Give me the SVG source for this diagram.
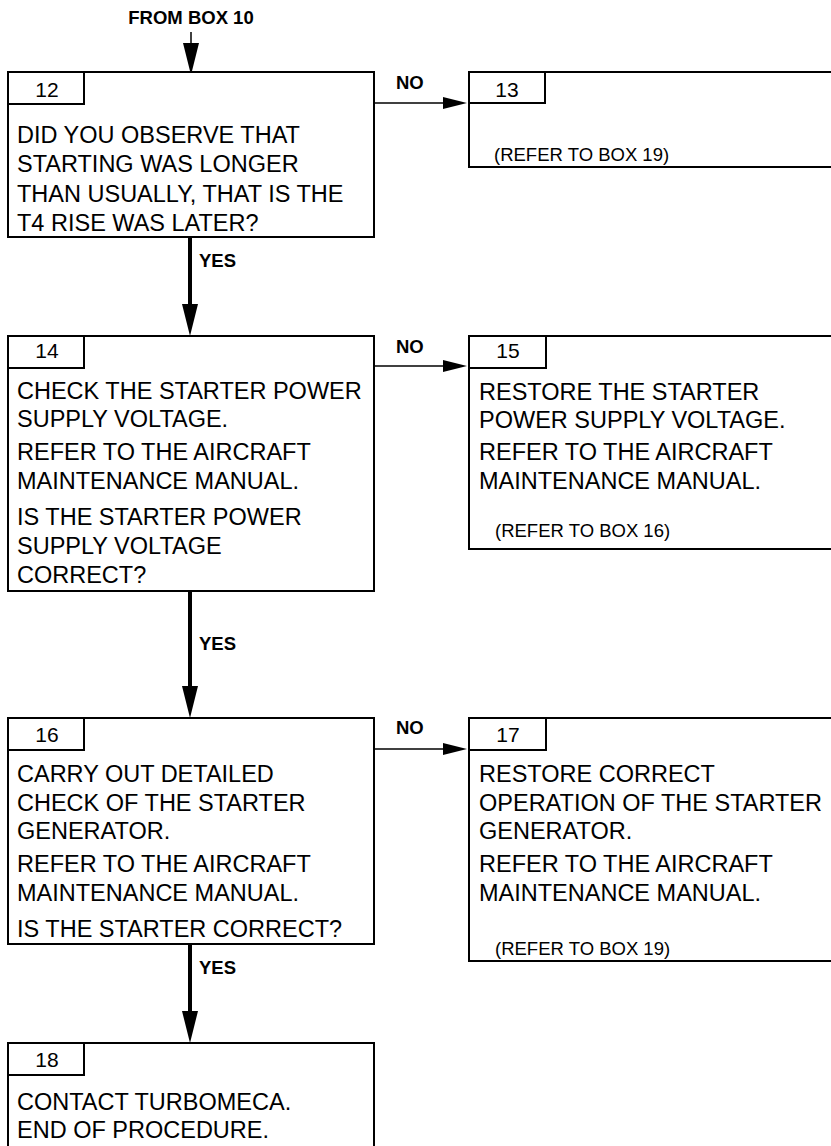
<svg xmlns="http://www.w3.org/2000/svg" width="831" height="1146" viewBox="0 0 831 1146">
<style>
  .box { fill: #fff; stroke: #000; stroke-width: 2; }
  .tab { fill: none; stroke: #000; stroke-width: 2; }
  .t { font-family: "Liberation Sans", Arial, sans-serif; font-size: 23.5px; fill: #000; }
  .num { font-family: "Liberation Sans", Arial, sans-serif; font-size: 21px; fill: #000; text-anchor: middle; }
  .note { font-family: "Liberation Sans", Arial, sans-serif; font-size: 18.5px; fill: #000; }
  .lbl { font-family: "Liberation Sans", Arial, sans-serif; font-size: 18.5px; font-weight: bold; fill: #000; }
  .yes { stroke: #000; stroke-width: 4; fill: none; }
  .thin { stroke: #000; stroke-width: 1.5; fill: none; }
</style>
<defs>
  <marker id="bigArrow" markerUnits="userSpaceOnUse" viewBox="0 0 32 16" refX="24" refY="8" markerWidth="32" markerHeight="16" orient="auto">
    <path d="M0,0 L32,8 L0,16 z" fill="#000"/>
  </marker>
  <marker id="smallArrow" markerUnits="userSpaceOnUse" viewBox="0 0 24 12" refX="20" refY="6" markerWidth="24" markerHeight="12" orient="auto">
    <path d="M0,0 L24,6 L0,12 z" fill="#000"/>
  </marker>
</defs>
<rect width="831" height="1146" fill="#fff"/>

<g id="connectors">
  <line class="thin" x1="191" y1="32" x2="191" y2="67" marker-end="url(#bigArrow)"/>
  <text class="lbl" x="191" y="24" text-anchor="middle">FROM BOX 10</text>
  <line class="thin" x1="374" y1="103" x2="463" y2="103" marker-end="url(#smallArrow)"/>
  <text class="lbl" x="396" y="89">NO</text>
  <line class="yes" x1="190" y1="237" x2="190" y2="328" marker-end="url(#bigArrow)"/>
  <text class="lbl" x="199" y="267">YES</text>
  <line class="thin" x1="374" y1="366" x2="463" y2="366" marker-end="url(#smallArrow)"/>
  <text class="lbl" x="396" y="353">NO</text>
  <line class="yes" x1="190" y1="591" x2="190" y2="710" marker-end="url(#bigArrow)"/>
  <text class="lbl" x="199" y="650">YES</text>
  <line class="thin" x1="374" y1="749" x2="463" y2="749" marker-end="url(#smallArrow)"/>
  <text class="lbl" x="396" y="734">NO</text>
  <line class="yes" x1="190" y1="944" x2="190" y2="1035" marker-end="url(#bigArrow)"/>
  <text class="lbl" x="199" y="974">YES</text>
</g>

<g id="box12">
  <rect class="box" x="8" y="72" width="366" height="165"/>
  <path class="tab" d="M8,104 H84 V72"/>
  <text class="num" x="47" y="97">12</text>
  <text class="t" x="17" y="143">DID YOU OBSERVE THAT</text>
  <text class="t" x="17" y="172">STARTING WAS LONGER</text>
  <text class="t" x="17" y="202">THAN USUALLY, THAT IS THE</text>
  <text class="t" x="17" y="231">T4 RISE WAS LATER?</text>
</g>

<g id="box13">
  <rect class="box" x="469" y="72" width="380" height="95"/>
  <path class="tab" d="M469,103 H545 V72"/>
  <text class="num" x="507" y="97">13</text>
  <text class="note" x="494" y="161">(REFER TO BOX 19)</text>
</g>

<g id="box14">
  <rect class="box" x="8" y="336" width="366" height="255"/>
  <path class="tab" d="M8,368 H84 V336"/>
  <text class="num" x="47" y="358">14</text>
  <text class="t" x="17" y="399">CHECK THE STARTER POWER</text>
  <text class="t" x="17" y="427">SUPPLY VOLTAGE.</text>
  <text class="t" x="17" y="460">REFER TO THE AIRCRAFT</text>
  <text class="t" x="17" y="489">MAINTENANCE MANUAL.</text>
  <text class="t" x="17" y="525">IS THE STARTER POWER</text>
  <text class="t" x="17" y="554">SUPPLY VOLTAGE</text>
  <text class="t" x="17" y="583">CORRECT?</text>
</g>

<g id="box15">
  <rect class="box" x="469" y="336" width="380" height="213"/>
  <path class="tab" d="M469,368 H546 V336"/>
  <text class="num" x="508" y="358">15</text>
  <text class="t" x="479" y="400">RESTORE THE STARTER</text>
  <text class="t" x="479" y="428">POWER SUPPLY VOLTAGE.</text>
  <text class="t" x="479" y="460">REFER TO THE AIRCRAFT</text>
  <text class="t" x="479" y="489">MAINTENANCE MANUAL.</text>
  <text class="note" x="495" y="537">(REFER TO BOX 16)</text>
</g>

<g id="box16">
  <rect class="box" x="8" y="718" width="366" height="226"/>
  <path class="tab" d="M8,750 H84 V718"/>
  <text class="num" x="47" y="742">16</text>
  <text class="t" x="17" y="782">CARRY OUT DETAILED</text>
  <text class="t" x="17" y="811">CHECK OF THE STARTER</text>
  <text class="t" x="17" y="839">GENERATOR.</text>
  <text class="t" x="17" y="872">REFER TO THE AIRCRAFT</text>
  <text class="t" x="17" y="901">MAINTENANCE MANUAL.</text>
  <text class="t" x="17" y="937">IS THE STARTER CORRECT?</text>
</g>

<g id="box17">
  <rect class="box" x="469" y="718" width="380" height="243"/>
  <path class="tab" d="M469,750 H546 V718"/>
  <text class="num" x="508" y="742">17</text>
  <text class="t" x="479" y="782">RESTORE CORRECT</text>
  <text class="t" x="479" y="811">OPERATION OF THE STARTER</text>
  <text class="t" x="479" y="839">GENERATOR.</text>
  <text class="t" x="479" y="872">REFER TO THE AIRCRAFT</text>
  <text class="t" x="479" y="901">MAINTENANCE MANUAL.</text>
  <text class="note" x="495" y="955">(REFER TO BOX 19)</text>
</g>

<g id="box18">
  <rect class="box" x="8" y="1043" width="366" height="120"/>
  <path class="tab" d="M8,1075 H84 V1043"/>
  <text class="num" x="47" y="1067">18</text>
  <text class="t" x="17" y="1110">CONTACT TURBOMECA.</text>
  <text class="t" x="17" y="1138">END OF PROCEDURE.</text>
</g>
</svg>
